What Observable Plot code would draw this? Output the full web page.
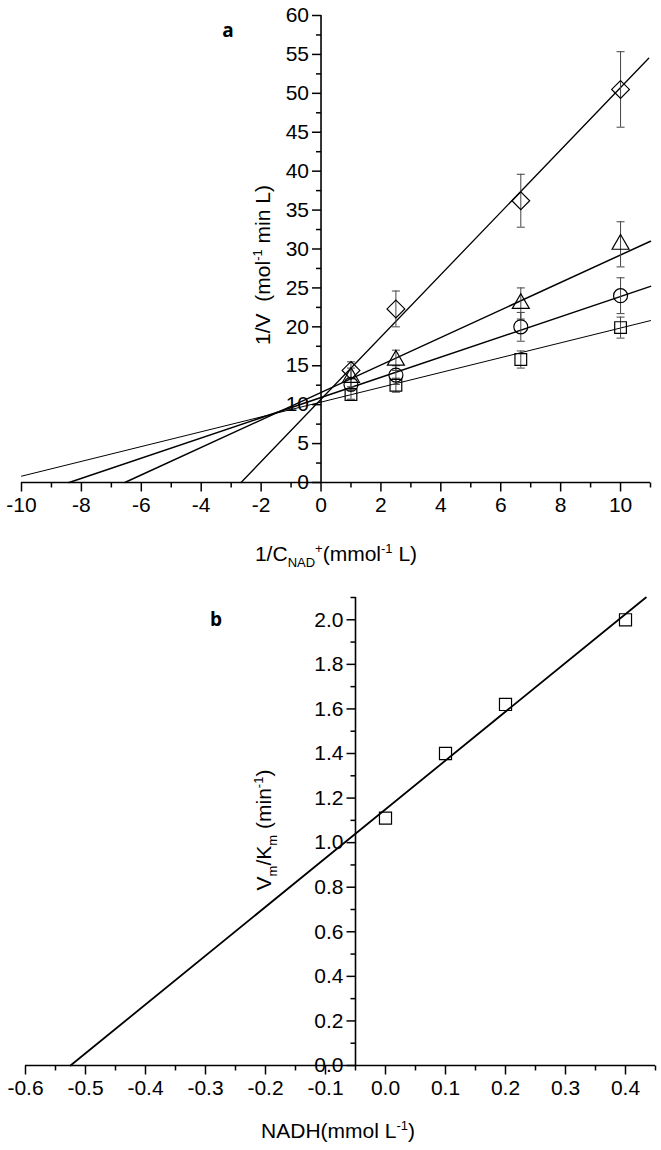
<!DOCTYPE html>
<html>
<head>
<meta charset="utf-8">
<script src="https://cdn.jsdelivr.net/npm/d3@7"></script>
<script src="https://cdn.jsdelivr.net/npm/@observablehq/plot@0.6"></script>
<style>
  html, body { margin: 0; padding: 0; background: #fff; }
  #chart svg { display: block; }
</style>
</head>
<body>
<div id="chart"></div>
<script>
// ---------- Panel a data ----------
const xVals = [1, 2.5, 6.67, 10];
const squareY   = [11.3, 12.5, 15.8, 19.9];
const squareErr = [0.6, 0.9, 1.1, 1.35];
const circleY   = [12.6, 13.8, 20.0, 24.0];
const circleErr = [0.8, 1.2, 1.85, 2.3];
const triangleY   = [13.5, 15.7, 23.0, 30.6];
const triangleErr = [1.2, 1.3, 2.0, 2.9];
const diamondY   = [14.4, 22.3, 36.2, 50.5];
const diamondErr = [1.1, 2.3, 3.4, 4.85];

// fitted lines (endpoints)
const squareLineX = [-10, 11],     squareLineY = [0.81, 20.8];
const circleLineX = [-8.41, 11],   circleLineY = [0, 25.2];
const triangleLineX = [-6.55, 11], triangleLineY = [0, 31.0];
const diamondLineX = [-2.67, 10.94], diamondLineY = [0, 54.5];

const aXMajor = [-10, -8, -6, -4, -2, 0, 2, 4, 6, 8, 10];
const aXMinor = [-9, -7, -5, -3, -1, 1, 3, 5, 7, 9, 11];
const aYMajor = [0, 5, 10, 15, 20, 25, 30, 35, 40, 45, 50, 55, 60];
const aYMinor = [2.5, 7.5, 12.5, 17.5, 22.5, 27.5, 32.5, 37.5, 42.5, 47.5, 52.5, 57.5];

// ---------- Panel b data ----------
const nadh = [0, 0.1, 0.2, 0.4];
const vmkm = [1.11, 1.40, 1.62, 2.00];
const bLineX = [-0.525, 0.434], bLineY = [0, 2.1];
const bXMajor = [-0.6, -0.5, -0.4, -0.3, -0.2, -0.1, 0.0, 0.1, 0.2, 0.3, 0.4];
const bXLabels = ["-0.6", "-0.5", "-0.4", "-0.3", "-0.2", "-0.1", "0.0", "0.1", "0.2", "0.3", "0.4"];
const bXMinor = [-0.55, -0.45, -0.35, -0.25, -0.15, -0.05, 0.05, 0.15, 0.25, 0.35, 0.45];
const bYMajor = [0, 0.2, 0.4, 0.6, 0.8, 1.0, 1.2, 1.4, 1.6, 1.8, 2.0];
const bYLabels = ["0.0", "0.2", "0.4", "0.6", "0.8", "1.0", "1.2", "1.4", "1.6", "1.8", "2.0"];
const bYMinor = [0.1, 0.3, 0.5, 0.7, 0.9, 1.1, 1.3, 1.5, 1.7, 1.9, 2.1];

// ---------- helpers ----------
const FONT = "Liberation Sans, Arial, Helvetica, sans-serif";
const tickDown = (len) => ({draw(ctx) { ctx.moveTo(0, 0); ctx.lineTo(0, len); }});
const tickLeft = (len) => ({draw(ctx) { ctx.moveTo(0, 0); ctx.lineTo(-len, 0); }});
const capH = (w) => ({draw(ctx) { ctx.moveTo(-w / 2, 0); ctx.lineTo(w / 2, 0); }});

function seriesRows(name, ys, errs) {
  return xVals.map((x, i) => ({series: name, x, y: ys[i], lo: ys[i] - errs[i], hi: ys[i] + errs[i]}));
}
function lineRows(name, xs, ys) {
  return xs.map((x, i) => ({series: name, x, y: ys[i]}));
}

const pts = {
  square: seriesRows("square", squareY, squareErr),
  circle: seriesRows("circle", circleY, circleErr),
  triangle: seriesRows("triangle", triangleY, triangleErr),
  diamond: seriesRows("diamond", diamondY, diamondErr)
};
const allPts = [...pts.square, ...pts.circle, ...pts.triangle, ...pts.diamond];
const lines = [
  {rows: lineRows("square", squareLineX, squareLineY), w: 1.0},
  {rows: lineRows("circle", circleLineX, circleLineY), w: 1.5},
  {rows: lineRows("triangle", triangleLineX, triangleLineY), w: 1.5},
  {rows: lineRows("diamond", diamondLineX, diamondLineY), w: 1.3}
];

function axisMarks(xMajor, xMinor, yMajor, yMinor, xDom, yDom, xAt, yAt, xLab, yLab) {
  return [
    Plot.ruleY([yAt], {x1: xDom[0], x2: xDom[1], stroke: "black", strokeWidth: 1.6}),
    Plot.ruleX([xAt], {y1: yDom[0], y2: yDom[1], stroke: "black", strokeWidth: 1.6}),
    Plot.dot(xMajor, {x: d => d, y: yAt, r: 1, symbol: tickDown(9), fill: "none", stroke: "black", strokeWidth: 1.5}),
    Plot.dot(xMinor, {x: d => d, y: yAt, r: 1, symbol: tickDown(5), fill: "none", stroke: "black", strokeWidth: 1.5}),
    Plot.dot(yMajor, {x: xAt, y: d => d, r: 1, symbol: tickLeft(9), fill: "none", stroke: "black", strokeWidth: 1.5}),
    Plot.dot(yMinor, {x: xAt, y: d => d, r: 1, symbol: tickLeft(5), fill: "none", stroke: "black", strokeWidth: 1.5}),
    Plot.text(xMajor, {x: d => d, y: yAt, text: (d, i) => xLab[i], lineAnchor: "top", dy: 15, fontSize: 21, fill: "black"}),
    Plot.text(yMajor, {x: xAt, y: d => d, text: (d, i) => yLab[i], textAnchor: "end", dx: -12, fontSize: 21, fill: "black"})
  ];
}

// ---------- Panel a ----------
const aXDom = [-10, 11], aYDom = [0, 60];
const chartA = Plot.plot({
  width: 661, height: 580,
  marginTop: 15, marginRight: 11, marginBottom: 98, marginLeft: 21,
  style: {fontFamily: FONT, background: "white"},
  x: {domain: aXDom, axis: null},
  y: {domain: aYDom, axis: null},
  marks: [
    ...axisMarks(aXMajor, aXMinor, aYMajor, aYMinor, aXDom, aYDom, 0, 0,
                 aXMajor.map(String), aYMajor.map(String)),
    ...lines.map(l => Plot.line(l.rows, {x: "x", y: "y", stroke: "black", strokeWidth: l.w})),
    Plot.ruleX(allPts, {x: "x", y1: "lo", y2: "hi", stroke: "#444", strokeWidth: 1}),
    Plot.dot(allPts, {x: "x", y: "lo", r: 1, symbol: capH(8), fill: "none", stroke: "#444", strokeWidth: 1}),
    Plot.dot(allPts, {x: "x", y: "hi", r: 1, symbol: capH(8), fill: "none", stroke: "#444", strokeWidth: 1}),
    Plot.dot(pts.square, {x: "x", y: "y", symbol: "square", r: 6.6, fill: "none", stroke: "black", strokeWidth: 1.2}),
    Plot.dot(pts.circle, {x: "x", y: "y", symbol: "circle", r: 7, fill: "none", stroke: "black", strokeWidth: 1.2}),
    Plot.dot(pts.triangle, {x: "x", y: "y", symbol: "triangle", r: 6.3, fill: "none", stroke: "black", strokeWidth: 1.2}),
    Plot.dot(pts.diamond, {x: "x", y: "y", symbol: d3.symbolDiamond2, r: 8, fill: "none", stroke: "black", strokeWidth: 1.2})
  ]
});

// ---------- Panel b ----------
const bXDom = [-0.6, 0.45], bYDom = [0, 2.1];
const bRows = nadh.map((x, i) => ({x, y: vmkm[i]}));
const bLine = bLineX.map((x, i) => ({x, y: bLineY[i]}));
const chartB = Plot.plot({
  width: 661, height: 570,
  marginTop: 17, marginRight: 6, marginBottom: 85, marginLeft: 25,
  style: {fontFamily: FONT, background: "white"},
  x: {domain: bXDom, axis: null},
  y: {domain: bYDom, axis: null},
  marks: [
    ...axisMarks(bXMajor, bXMinor, bYMajor, bYMinor, bXDom, bYDom, -0.05, 0, bXLabels, bYLabels),
    Plot.line(bLine, {x: "x", y: "y", stroke: "black", strokeWidth: 1.8}),
    Plot.dot(bRows, {x: "x", y: "y", symbol: "square", r: 6.8, fill: "none", stroke: "black", strokeWidth: 1.2})
  ]
});

// ---------- titles with sub/superscripts ----------
function addText(svg, parts, opts) {
  const t = d3.select(svg).append("text")
    .attr("font-family", opts.family || FONT)
    .attr("font-size", opts.size || 21)
    .attr("font-weight", opts.weight || "normal")
    .attr("text-anchor", opts.anchor || "middle")
    .attr("fill", "black")
    .attr("transform", `translate(${opts.x},${opts.y})` + (opts.rotate ? ` rotate(${opts.rotate})` : ""));
  let shift = 0;
  for (const p of parts) {
    const [txt, kind] = Array.isArray(p) ? p : [p, "n"];
    let target = 0, size = opts.size || 21;
    if (kind === "sup") { target = -8; size = 13; }
    if (kind === "sub") { target = 6; size = 13; }
    t.append("tspan").attr("dy", target - shift).attr("font-size", size).text(txt);
    shift = target;
  }
  return t;
}

const svgA = chartA.tagName.toLowerCase() === "svg" ? chartA : chartA.querySelector("svg");
const svgB = chartB.tagName.toLowerCase() === "svg" ? chartB : chartB.querySelector("svg");

addText(svgA, ["a"], {x: 228, y: 37, size: 19, weight: "bold", family: "Open Sans, DejaVu Sans, sans-serif"});
addText(svgA, ["1/V  (mol", ["-1", "sup"], " min L)"], {x: 270, y: 265, rotate: -90});
addText(svgA, ["1/C", ["NAD", "sub"], ["+", "sup"], "(mmol", ["-1", "sup"], " L)"], {x: 336, y: 561});

addText(svgB, ["b"], {x: 216, y: 46, size: 19, weight: "bold", family: "Open Sans, DejaVu Sans, sans-serif"});
addText(svgB, ["V", ["m", "sub"], "/K", ["m", "sub"], " (min", ["-1", "sup"], ")"], {x: 271, y: 250, rotate: -90});
addText(svgB, ["NADH(mmol L", ["-1", "sup"], ")"], {x: 338, y: 558});

document.getElementById("chart").append(chartA, chartB);
</script>
</body>
</html>
